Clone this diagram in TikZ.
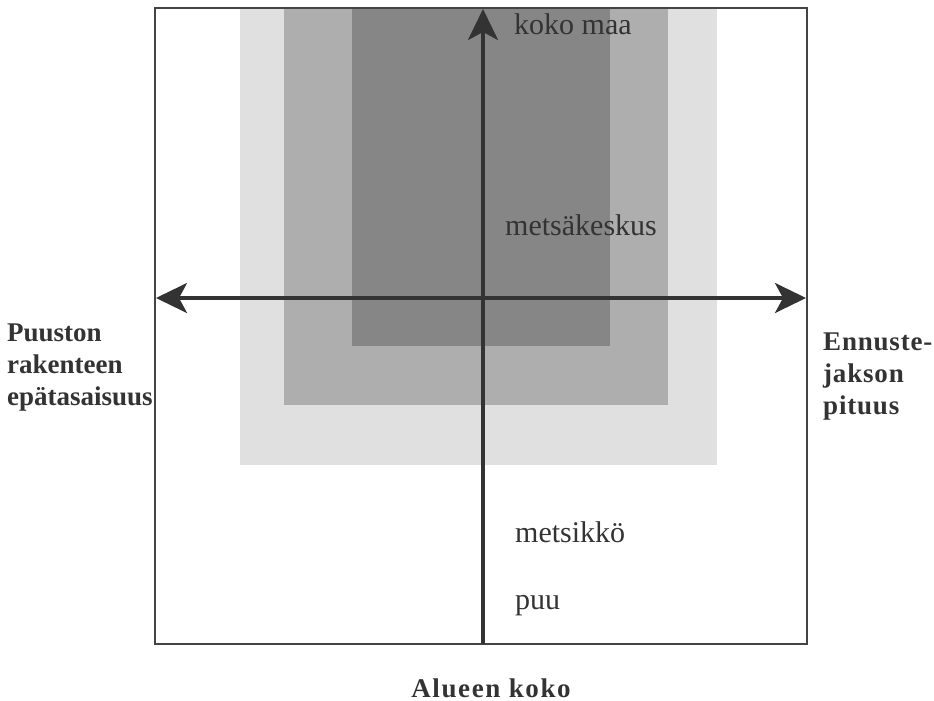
\documentclass[tikz,border=0pt]{standalone}
\usepackage{fontspec}
\setmainfont{Liberation Serif}
\usetikzlibrary{arrows.meta}
\definecolor{shadeA}{HTML}{E0E0E0}
\definecolor{shadeB}{HTML}{AEAEAE}
\definecolor{shadeC}{HTML}{868686}
\definecolor{ink}{HTML}{333333}
\definecolor{framecol}{HTML}{444444}
\tikzset{
  zone/.style={fill=#1, draw=none},
  axis/.style={line width=3.5pt, draw=ink, {Stealth[length=31pt,width=30pt,inset=8pt]}-{Stealth[length=31pt,width=30pt,inset=8pt]}},
  upaxis/.style={line width=3.5pt, draw=ink, -{Stealth[length=31pt,width=30pt,inset=8pt]}},
  lvl/.style={inner sep=0pt, anchor=base west, text=ink, font=\fontsize{30}{32}\selectfont},
  axlabel/.style={inner sep=0pt, anchor=base west, align=left, text=ink, font=\fontsize{27}{32}\selectfont\bfseries},
}
\begin{document}
\begin{tikzpicture}[x=1pt,y=-1pt]
\useasboundingbox (0,0) rectangle (934,701);
% shaded zones
\fill[zone=shadeA] (240,8) rectangle (717,465);
\fill[zone=shadeB] (284,8) rectangle (668,405);
\fill[zone=shadeC] (352,8) rectangle (610,346);
% frame
\node[draw=framecol, line width=1.6pt, minimum width=652pt, minimum height=636pt, inner sep=0pt] (frame) at (481,326) {};
% axis end points
\coordinate (vb) at (483,644);
\coordinate (vt) at (483,9);
\coordinate (hl) at (156,298);
\coordinate (hr) at (806,298);
\draw[axis] (hl) -- (hr);
\draw[upaxis] (vb) -- (vt);
% level labels
\node[lvl] (kokomaa) at (514,35) {koko maa};
\node[lvl] (mk) at (505,235) {metsäkeskus};
\node[lvl] (metsikko) at (515,542) {metsikkö};
\node[lvl] (puu) at (515,609) {puu};
% axis labels
\node[axlabel] (left) at (7,405) {Puuston\\rakenteen\\epätasaisuus};
\node[axlabel, font=\fontsize{27}{32}\selectfont\bfseries\addfontfeature{LetterSpace=3}] (right) at (823,414) {Ennuste-\\jakson\\pituus};
\node[axlabel, anchor=base, font=\fontsize{27}{32}\selectfont\bfseries\addfontfeature{LetterSpace=6}] (bottom) at (491,697) {Alueen koko};
\end{tikzpicture}
\end{document}
